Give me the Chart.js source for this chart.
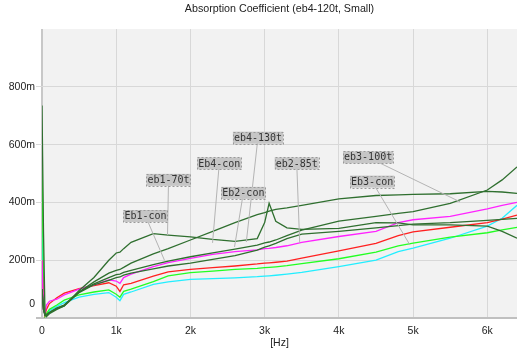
<!DOCTYPE html>
<html>
<head>
<meta charset="utf-8">
<script src="https://cdn.jsdelivr.net/npm/chart.js@4.4.1/dist/chart.umd.min.js"></script>
<style>
  html, body { margin: 0; padding: 0; background: #fff; }
  #wrap { width: 517px; height: 352px; }
</style>
</head>
<body>
<div id="wrap"><canvas id="absChart"></canvas></div>
<script>
// frequency points (Hz) shared by every curve
const freq = [0, 20, 40, 60, 100, 200, 300, 500, 700, 900, 1000, 1050, 1100, 1200, 1500, 1700,
  2000, 2300, 2600, 2900, 3000, 3060, 3150, 3300, 3500, 4000, 4500, 4800, 5000, 5500, 6000, 6200, 6400];

// absorption values in milli units (m)
const eb1_70t = [735, 300, 20, 5, 15, 30, 42, 95, 140, 200, 225, 228, 240, 262, 292, 287,
  281, 272, 265, 275, 330, 397, 335, 312, 307, 310, 330, 329, 322, 322, 318, 300, 276];
const eb4_130t = [100, 30, 10, 12, 20, 35, 45, 90, 125, 155, 165, 168, 175, 190, 222, 240,
  270, 300, 330, 358, 365, 370, 376, 381, 390, 412, 424, 426, 428, 430, 438, 436, 431];
const eb2_85t = [100, 30, 10, 10, 18, 32, 42, 88, 115, 130, 140, 142, 148, 155, 170, 180,
  190, 203, 216, 235, 245, 250, 258, 275, 290, 300, 312, 320, 325, 330, 338, 341, 345];
const eb3_100t = [100, 30, 10, 10, 18, 32, 45, 90, 118, 140, 150, 152, 158, 165, 185, 197,
  212, 225, 238, 252, 260, 263, 270, 285, 304, 335, 352, 362, 368, 397, 443, 478, 523];
const eb1Con = [200, 30, 15, 45, 58, 65, 80, 100, 115, 132, 128, 120, 140, 152, 178, 192,
  206, 220, 230, 236, 240, 241, 244, 250, 262, 282, 300, 330, 340, 352, 378, 390, 400];
const eb2Con = [200, 40, 10, 30, 50, 70, 86, 102, 112, 122, 110, 92, 115, 120, 145, 160,
  168, 174, 180, 187, 190, 191, 193, 197, 207, 232, 258, 285, 298, 314, 330, 342, 356];
const eb4Con = [540, 120, 5, 15, 30, 45, 62, 80, 90, 97, 82, 72, 92, 100, 126, 146,
  157, 162, 168, 172, 174, 175, 177, 181, 188, 205, 228, 250, 259, 280, 295, 305, 314];
const eb3Con = [300, 60, 5, 10, 25, 40, 53, 72, 82, 88, 72, 60, 82, 90, 116, 125,
  134, 136, 139, 143, 145, 146, 148, 152, 158, 178, 200, 230, 242, 276, 318, 345, 390];

const xTicks = [0, 1000, 2000, 3000, 4000, 5000, 6000];
const yTicks = [0, 200, 400, 600, 800];

// callout labels: text, label centre (Hz, m), point the leader goes to (Hz, m)
const calloutText = ["Eb1-con", "eb1-70t", "Eb4-con", "eb4-130t", "Eb2-con", "eb2-85t", "eb3-100t", "Eb3-con"];
const calloutAt = [[1394, 353], [1705, 478], [2389, 535], [2910, 624], [2713, 433], [3432, 535], [4394, 556], [4448, 472]];
const calloutTo = [[1650, 200], [1691, 287], [2298, 260], [2753, 263], [2594, 246], [3472, 260], [5632, 402], [4957, 253]];

const darkGreen = "#2f6f2f";

function series(label, values, color) {
  return {
    label,
    data: freq.map((f, i) => ({ x: f, y: values[i] })),
    borderColor: color,
    borderWidth: 1.3,
    pointRadius: 0,
    fill: false,
    tension: 0
  };
}

// plot background + the lifted "0" tick label
const plotBg = {
  id: "plotBg",
  beforeDraw(chart) {
    const a = chart.chartArea;
    const ctx = chart.ctx;
    ctx.save();
    ctx.fillStyle = "#f2f2f2";
    ctx.fillRect(a.left, a.top, a.right - a.left, a.bottom - a.top);
    ctx.restore();
  },
  afterDraw(chart) {
    const ctx = chart.ctx;
    const y = chart.scales.y;
    ctx.save();
    ctx.font = "10.5px 'Liberation Sans'";
    ctx.fillStyle = "#222";
    ctx.textAlign = "right";
    ctx.textBaseline = "middle";
    ctx.fillText("0", y.right - 7, y.getPixelForValue(0) - 14);
    ctx.restore();
  }
};

// grey boxed callouts with leader lines
const callouts = {
  id: "callouts",
  afterDatasetsDraw(chart) {
    const ctx = chart.ctx;
    const xs = chart.scales.x;
    const ys = chart.scales.y;
    ctx.save();
    ctx.font = "10px 'DejaVu Sans Mono'";
    ctx.strokeStyle = "#b4b4b4";
    ctx.lineWidth = 1;
    calloutText.forEach((t, i) => {
      ctx.beginPath();
      ctx.moveTo(xs.getPixelForValue(calloutAt[i][0]), ys.getPixelForValue(calloutAt[i][1]));
      ctx.lineTo(xs.getPixelForValue(calloutTo[i][0]), ys.getPixelForValue(calloutTo[i][1]));
      ctx.stroke();
    });
    calloutText.forEach((t, i) => {
      const cx = xs.getPixelForValue(calloutAt[i][0]);
      const cy = ys.getPixelForValue(calloutAt[i][1]);
      const w = ctx.measureText(t).width + 2;
      const h = 12;
      ctx.fillStyle = "#c6c6c6";
      ctx.fillRect(cx - w / 2, cy - h / 2, w, h);
      ctx.setLineDash([2, 2]);
      ctx.strokeStyle = "#9a9a9a";
      ctx.strokeRect(Math.round(cx - w / 2) + 0.5, Math.round(cy - h / 2) + 0.5, Math.round(w), h);
      ctx.setLineDash([]);
      ctx.fillStyle = "#333";
      ctx.textAlign = "center";
      ctx.textBaseline = "middle";
      ctx.fillText(t, cx, cy + 0.5);
    });
    ctx.restore();
  }
};

new Chart(document.getElementById("absChart"), {
  type: "line",
  data: {
    datasets: [
      series("eb1-70t", eb1_70t, darkGreen),
      series("eb4-130t", eb4_130t, darkGreen),
      series("eb2-85t", eb2_85t, darkGreen),
      series("eb3-100t", eb3_100t, darkGreen),
      series("Eb1-con", eb1Con, "#ff22ff"),
      series("Eb2-con", eb2Con, "#ff2020"),
      series("Eb4-con", eb4Con, "#22ff22"),
      series("Eb3-con", eb3Con, "#22eeff")
    ]
  },
  options: {
    responsive: true,
    maintainAspectRatio: false,
    animation: false,
    layout: { padding: 0 },
    plugins: {
      legend: { display: false },
      tooltip: { enabled: false },
      title: {
        display: true,
        fullSize: false,
        text: "Absorption Coefficient (eb4-120t, Small)",
        color: "#222",
        font: { family: "'Liberation Sans'", size: 10.7, weight: "normal" },
        padding: { top: 3, bottom: 13.2 }
      }
    },
    scales: {
      x: {
        type: "linear",
        min: 0,
        max: 6400,
        afterBuildTicks: (scale) => { scale.ticks = xTicks.map(v => ({ value: v })); },
        afterFit: (scale) => { scale.height = 34; },
        ticks: {
          color: "#222",
          font: { family: "'Liberation Sans'", size: 10.5 },
          padding: 7,
          maxRotation: 0,
          callback: v => (v === 0 ? "0" : v / 1000 + "k")
        },
        grid: {
          drawTicks: false,
          color: ctx => (ctx.tick && ctx.tick.value === 0 ? "#c8c8c8" : "#d8d8d8"),
          lineWidth: ctx => (ctx.tick && ctx.tick.value === 0 ? 2 : 1)
        },
        border: { display: false },
        title: {
          display: true,
          text: "[Hz]",
          color: "#222",
          font: { family: "'Liberation Sans'", size: 10.5 },
          padding: { top: 0, bottom: 2.5 }
        }
      },
      y: {
        min: 0,
        max: 1000,
        afterBuildTicks: (scale) => { scale.ticks = yTicks.map(v => ({ value: v })); },
        afterFit: (scale) => { scale.width = 42; },
        ticks: {
          color: "#222",
          font: { family: "'Liberation Sans'", size: 10.5 },
          padding: 1,
          callback: v => (v === 0 ? "" : v + "m")
        },
        grid: {
          tickLength: 6,
          color: ctx => (ctx.tick && ctx.tick.value === 0 ? "#c0c0c0" : "#d8d8d8"),
          lineWidth: ctx => (ctx.tick && ctx.tick.value === 0 ? 2 : 1)
        },
        border: { display: false }
      }
    }
  },
  plugins: [plotBg, callouts]
});
</script>
</body>
</html>
